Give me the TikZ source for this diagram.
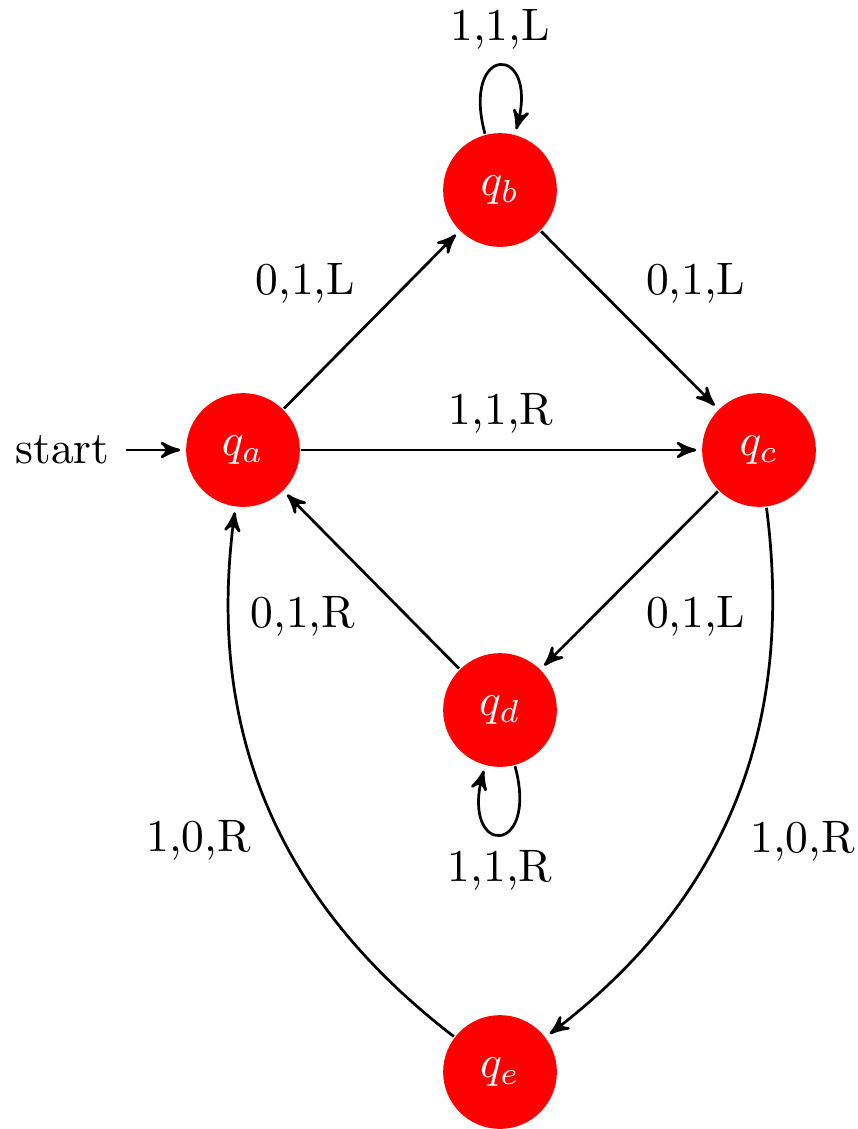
\documentclass[tikz,border=0pt]{standalone}
\usetikzlibrary{automata,arrows,positioning}
\begin{document}
\begin{tikzpicture}[x=0.2198pt,y=-0.2198pt,->,>=stealth',shorten >=1pt,auto,semithick,
  every state/.style={fill=red,draw=none,text=white}]
\useasboundingbox (0,0) rectangle (857,1129);
\node[initial,state] (A) at (243,450) {$q_a$};
\node[state] (B) at (500,190) {$q_b$};
\node[state] (C) at (759,450) {$q_c$};
\node[state] (D) at (500,710) {$q_d$};
\node[state] (E) at (500,1072) {$q_e$};
\path (A) edge node {0,1,L} (B)
          edge node {1,1,R} (C)
      (B) edge [loop above] node {1,1,L} (B)
          edge node {0,1,L} (C)
      (C) edge node {0,1,L} (D)
          edge [bend left] node {1,0,R} (E)
      (D) edge [loop below] node {1,1,R} (D)
          edge node {0,1,R} (A)
      (E) edge [bend left] node {1,0,R} (A);
\end{tikzpicture}
\end{document}
